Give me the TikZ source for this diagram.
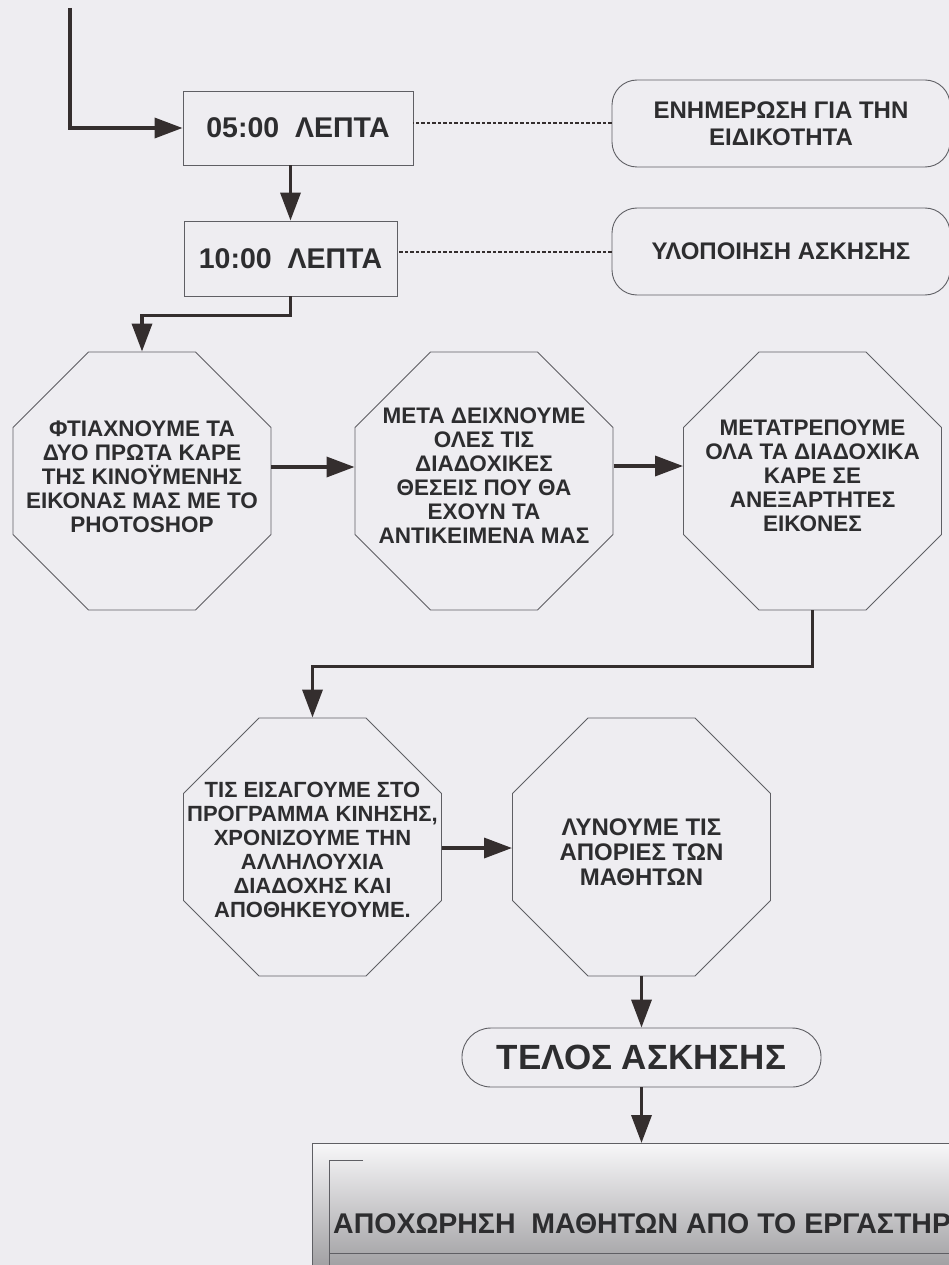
\documentclass[tikz,border=0pt]{standalone}
\usepackage{fontspec}
\setmainfont{Liberation Sans}
\usetikzlibrary{arrows.meta,shapes.geometric,calc}
\definecolor{bgc}{RGB}{238,237,241}
\definecolor{linec}{RGB}{95,95,100}
\definecolor{connc}{RGB}{52,46,46}
\definecolor{txtc}{RGB}{45,45,47}
\begin{document}
\begin{tikzpicture}[x=1pt,y=-1pt,
  flow/.style={draw=connc, line width=3.5pt, -{Triangle[length=28pt,width=20pt]}},
  dotline/.style={draw=connc, line width=2pt, dash pattern=on 3.5pt off 2pt},
  timebox/.style={draw=linec, line width=0.9pt, fill=bgc, rectangle, inner sep=0pt,
    font=\bfseries\fontsize{28.5}{31}\selectfont, text=txtc},
  infobox/.style={draw=linec, line width=0.9pt, fill=bgc, rectangle, rounded corners=25pt,
    inner sep=0pt, align=center, font=\bfseries\fontsize{24}{27}\selectfont, text=txtc},
  octo/.style={draw=linec, line width=0.9pt, fill=bgc, regular polygon, regular polygon sides=8,
    minimum size=279.3pt, inner sep=0pt},
  otext/.style={align=center, inner sep=0pt, text=txtc, font=\bfseries\fontsize{22.5}{24}\selectfont},
  endbox/.style={draw=linec, line width=0.9pt, fill=bgc, rectangle, rounded corners=29pt,
    inner sep=0pt, minimum width=359pt, minimum height=59pt,
    font=\bfseries\fontsize{35}{38}\selectfont, text=txtc},
  innerline/.style={draw=linec, line width=0.9pt}
]
\fill[bgc] (0,0) rectangle (949,1265);
\useasboundingbox (0,0) rectangle (949,1265);

% time boxes
\node[timebox, minimum width=230pt, minimum height=74pt] (b1) at (298,128) {05:00\ \ ΛΕΠΤΑ};
\node[timebox, minimum width=213pt, minimum height=75pt] (b2) at (290.5,258.5) {10:00\ \ ΛΕΠΤΑ};

% info boxes
\node[infobox, minimum width=338pt, minimum height=87pt] (r1) at (781,123.5) {ΕΝΗΜΕΡΩΣΗ ΓΙΑ ΤΗΝ\\ΕΙΔΙΚΟΤΗΤΑ};
\node[infobox, minimum width=338pt, minimum height=87pt] (r2) at (781,251.5) {ΥΛΟΠΟΙΗΣΗ ΑΣΚΗΣΗΣ};

% octagons
\node[octo] (o1) at (142,481) {};
\node[octo] (o2) at (484,481) {};
\node[octo] (o3) at (812.5,481) {};
\node[octo] (o4) at (312.5,847) {};
\node[octo] (o5) at (641.5,847) {};

\node[otext] (t1) at (142,477) {ΦΤΙΑΧΝΟΥΜΕ ΤΑ\\ΔΥΟ ΠΡΩΤΑ ΚΑΡΕ\\ΤΗΣ ΚΙΝΟΫΜΕΝΗΣ\\ΕΙΚΟΝΑΣ ΜΑΣ ΜΕ ΤΟ\\PHOTOSHOP};
\node[otext] (t2) at (484,476) {ΜΕΤΑ ΔΕΙΧΝΟΥΜΕ\\ΟΛΕΣ ΤΙΣ\\ΔΙΑΔΟΧΙΚΕΣ\\ΘΕΣΕΙΣ ΠΟΥ ΘΑ\\ΕΧΟΥΝ ΤΑ\\ΑΝΤΙΚΕΙΜΕΝΑ ΜΑΣ};
\node[otext] (t3) at (812.5,476) {ΜΕΤΑΤΡΕΠΟΥΜΕ\\ΟΛΑ ΤΑ ΔΙΑΔΟΧΙΚΑ\\ΚΑΡΕ ΣΕ\\ΑΝΕΞΑΡΤΗΤΕΣ\\ΕΙΚΟΝΕΣ};
\node[otext, font=\bfseries\fontsize{22}{24}\selectfont] (t4) at (312.5,850) {ΤΙΣ ΕΙΣΑΓΟΥΜΕ ΣΤΟ\\ΠΡΟΓΡΑΜΜΑ ΚΙΝΗΣΗΣ,\\ΧΡΟΝΙΖΟΥΜΕ ΤΗΝ\\ΑΛΛΗΛΟΥΧΙΑ\\ΔΙΑΔΟΧΗΣ ΚΑΙ\\ΑΠΟΘΗΚΕΥΟΥΜΕ.};
\node[otext, font=\bfseries\fontsize{24}{25}\selectfont] (t5) at (641.5,852) {ΛΥΝΟΥΜΕ ΤΙΣ\\ΑΠΟΡΙΕΣ ΤΩΝ\\ΜΑΘΗΤΩΝ};

% end pill
\node[endbox] (tel) at (641.5,1057.5) {ΤΕΛΟΣ ΑΣΚΗΣΗΣ};

% bottom box (cut by the page edge)
\begin{scope}
\clip (0,0) rectangle (949,1265);
\node[draw=linec, line width=1pt, rectangle, anchor=north west, inner sep=0pt,
  minimum width=700pt, minimum height=125pt, top color=white!55!bgc, bottom color=black!33!bgc] (bb) at (312,1143) {};
\coordinate (m1) at (363,1160);
\coordinate (m2) at (329,1160);
\coordinate (m3) at (329,1300);
\coordinate (m4) at (329,1253);
\coordinate (m5) at (1000,1253);
\draw[innerline] (m1) -- (m2) -- (m3);
\draw[innerline] (m4) -- (m5);
\node[anchor=base west, inner sep=0pt, text=txtc, font=\bfseries\fontsize{28.5}{30}\selectfont] (bt) at (333,1233) {ΑΠΟΧΩΡΗΣΗ\ \ ΜΑΘΗΤΩΝ ΑΠΟ ΤΟ ΕΡΓΑΣΤΗΡ};
\end{scope}

% connectors
\coordinate (start) at (70,8);
\draw[flow] (start) |- (b1.west);
\draw[flow] (b2.north |- b1.south) -- (b2.north);
\draw[flow] (b2.south) -- ++(0,19) -| (o1.north);
\draw[flow] (o1.east |- 0,467) -- (o2.west |- 0,467);
\draw[flow] (o2.east |- 0,466) -- (o3.west |- 0,466);
\draw[flow] (o3.south) -- ++(0,56) -| (o4.north);
\draw[flow] (o4.east |- 0,848) -- (o5.west |- 0,848);
\draw[flow] (o5.south) -- (tel.north);
\draw[flow] (tel.south) -- (tel.south |- bb.north);

\draw[dotline] (r1.west) -- (r1.west -| b1.east);
\draw[dotline] (r2.west) -- (r2.west -| b2.east);
\end{tikzpicture}
\end{document}
